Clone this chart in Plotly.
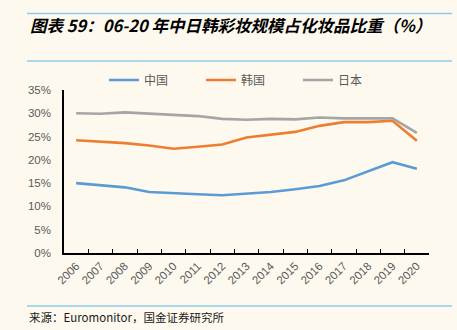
import plotly.graph_objects as go

years = [str(y) for y in range(2006, 2021)]
china = [15.0, 14.5, 14.1, 13.1, 12.8, 12.6, 12.4, 12.8, 13.1, 13.7, 14.4, 15.6, 17.6, 19.5, 18.1]
korea = [24.2, 23.9, 23.6, 23.1, 22.4, 22.8, 23.3, 24.8, 25.4, 26.0, 27.3, 28.1, 28.1, 28.4, 24.1]
japan = [30.0, 29.9, 30.2, 29.9, 29.7, 29.4, 28.8, 28.6, 28.8, 28.7, 29.1, 28.9, 28.9, 28.9, 25.8]
series_names = ["中国", "韩国", "日本"]
colors = ["#5B9BD5", "#ED7D31", "#A5A5A5"]
y_ticks = [0, 5, 10, 15, 20, 25, 30, 35]

W, H = 457, 330
L, R, T, B = 64, 429, 90, 253
BG = "#FDF9EF"
FONT = "Liberation Sans, Arial, Noto Sans CJK SC"
CJK = "Noto Sans CJK SC, Liberation Sans"

def px(x):
    return (x - L) / (R - L)

def py(y):
    return (B - y) / (B - T)

fig = go.Figure()
for name, vals, c in zip(series_names, [china, korea, japan], colors):
    fig.add_trace(go.Scatter(x=years, y=vals, name=name, mode="lines",
                             line=dict(color=c, width=2.6)))

shapes = []
for yy in [13.5, 61, 306]:
    shapes.append(dict(type="line", xref="paper", yref="paper",
                       x0=px(27), x1=px(452), y0=py(yy), y1=py(yy),
                       line=dict(color="#8FCBE8", width=1.5)))

annotations = [
    dict(text="<b><i>图表 59：06-20 年中日韩彩妆规模占化妆品比重（%）</i></b>",
         xref="paper", yref="paper", x=px(28), y=py(25), xanchor="left", yanchor="middle",
         showarrow=False, font=dict(family=CJK, size=16.5, color="#000000")),
    dict(text="来源：Euromonitor，国金证券研究所",
         xref="paper", yref="paper", x=px(27), y=py(317), xanchor="left", yanchor="middle",
         showarrow=False, font=dict(family=CJK, size=11.5, color="#1a1a1a")),
]

fig.update_layout(
    width=W, height=H,
    margin=dict(l=L, r=W - R, t=T, b=H - B, pad=0),
    paper_bgcolor=BG, plot_bgcolor=BG,
    font=dict(family=FONT, color="#595959"),
    showlegend=True,
    legend=dict(orientation="h", x=px(104), y=py(80), xanchor="left", yanchor="middle",
                font=dict(family=CJK, size=12, color="#595959"),
                bgcolor="rgba(0,0,0,0)", entrywidth=52, entrywidthmode="pixels",
                itemwidth=30),
    shapes=shapes,
    annotations=annotations,
    xaxis=dict(type="category", range=[-0.5, 14.5], showgrid=False,
               showline=True, linecolor="#000000", linewidth=1.5,
               ticks="inside", ticklen=4, tickcolor="#000000", tickwidth=1.2,
               tickson="boundaries", tickangle=-45,
               tickfont=dict(family=FONT, size=11.5, color="#595959"), zeroline=False),
    yaxis=dict(range=[0, 35], tickvals=y_ticks, ticktext=[f"{v}%" for v in y_ticks],
               showgrid=False, showline=True, linecolor="#000000", linewidth=1.5,
               ticks="", ticklabelstandoff=9, zeroline=False,
               tickfont=dict(family=FONT, size=11.5, color="#595959")),
)

fig.write_html("out.html")
